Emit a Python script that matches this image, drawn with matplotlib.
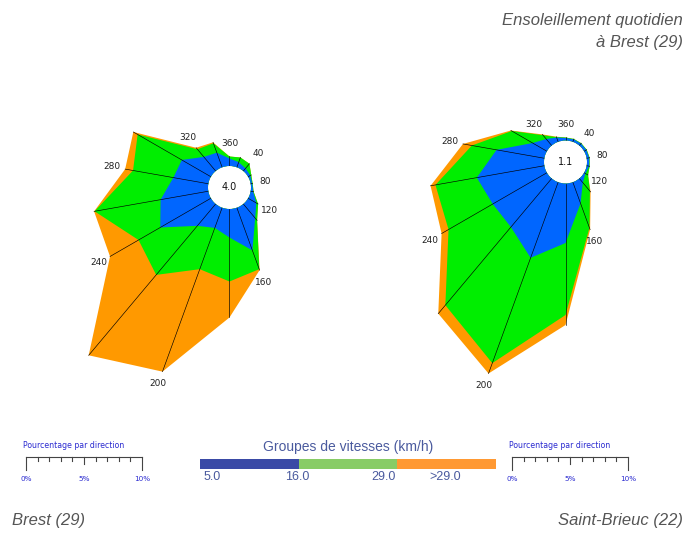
import numpy as np
import matplotlib
matplotlib.use("Agg")
import matplotlib.pyplot as plt

# ---------------- data ----------------
directions = list(range(0, 360, 20))          # degrees (0 = North, clockwise)
label_dirs = [40, 80, 120, 160, 200, 240, 280, 320, 360]

# Brest (29) - percentage per direction and speed group
brest_calm = 4.0
brest_blue = [0.65, 0.47, 0.30, 0.22, 0.13, 0.22, 0.82, 1.59, 3.92,
              2.46, 1.85, 2.46, 5.04, 4.18, 3.06, 2.89, 1.59, 1.34]
brest_green = [0.17, 0.43, 0.52, 0.09, 0.04, 0.04, 0.17, 0.26, 1.72,
               3.79, 3.79, 5.52, 2.16, 5.78, 3.53, 4.40, 0.86, 0.86]
brest_orange = [0.0, 0.0, 0.0, 0.0, 0.0, 0.0, 0.0, 0.0, 0.09,
                3.10, 9.40, 9.05, 2.84, 0.04, 0.69, 0.43, 0.17, 0.09]

# Saint-Brieuc (22)
sb_calm = 1.1
sb_blue = [0.22, 0.22, 0.22, 0.22, 0.22, 0.22, 0.13, 0.47, 1.94,
           5.13, 6.94, 5.47, 5.39, 5.91, 4.18, 1.42, 0.73, 0.39]
sb_green = [0.04, 0.04, 0.04, 0.04, 0.04, 0.04, 0.26, 0.95, 2.24,
            6.21, 9.66, 8.79, 4.40, 3.62, 2.16, 2.07, 0.43, 0.04]
sb_orange = [0.0, 0.0, 0.0, 0.0, 0.0, 0.0, 0.0, 0.09, 0.17,
             0.86, 0.95, 0.95, 0.69, 0.43, 0.78, 0.09, 0.09, 0.04]

speed_labels = ["5.0", "16.0", "29.0", ">29.0"]
legend_colors = ["#3a4aa6", "#88cc66", "#ff9933"]
rose_colors = ["#0066ff", "#00ee00", "#ff9900"]
scale_labels = ["0%", "5%", "10%"]
scale_values = [0, 5, 10]

# ---------------- layout ----------------
W, H = 688, 533
fig = plt.figure(figsize=(W / 100, H / 100), dpi=100)

PX = 11.6          # pixels per percent
HOLE = 21.5 / PX   # calm circle radius in percent units
RMAX = 20


def rose(cx, cy, blue, green, orange, calm):
    R = (RMAX + HOLE) * PX
    ax = fig.add_axes([(cx - R) / W, 1 - (cy + R) / H, 2 * R / W, 2 * R / H],
                      projection="polar")
    ax.set_theta_zero_location("N")
    ax.set_theta_direction(-1)
    ax.set_rorigin(-HOLE)
    ax.set_rlim(0, RMAX)
    ax.axis("off")
    th = np.deg2rad(directions)
    c1 = np.array(blue)
    c2 = c1 + np.array(green)
    c3 = c2 + np.array(orange)
    ax.fill(th, c3, color=rose_colors[2], lw=0, zorder=1)
    ax.fill(th, c2, color=rose_colors[1], lw=0, zorder=2)
    ax.fill(th, c1, color=rose_colors[0], lw=0, zorder=3)
    for t, r in zip(th, c3):
        ax.plot([t, t], [0, r], color="black", lw=0.45, zorder=4)
    for d in label_dirs:
        i = directions.index(d % 360)
        ax.text(np.deg2rad(d % 360), c3[i] + 1.12, str(d), ha="center",
                va="center", fontsize=6.5, color="#222222", zorder=5)
    ax.text(0.5, 0.5, f"{calm:.1f}", transform=ax.transAxes, ha="center",
            va="center", fontsize=7, color="#111111", zorder=6)
    return ax


rose(229.5, 187.5, brest_blue, brest_green, brest_orange, brest_calm)
rose(565.5, 162.0, sb_blue, sb_green, sb_orange, sb_calm)


def fx(x):
    return x / W


def fy(y):
    return 1 - y / H


# ---------------- scale rulers ----------------
def ruler(x0, x1):
    ax = fig.add_axes([fx(x0), fy(471), fx(x1 - x0), 14 / H])
    ax.set_xlim(0, 10)
    ax.set_ylim(-14, 0)
    ax.axis("off")
    ax.plot([0, 10], [0, 0], color="#444444", lw=0.8, clip_on=False)
    for v in range(11):
        if v in (0, 10):
            ln = 13
        elif v == 5:
            ln = 7
        else:
            ln = 4
        ax.plot([v, v], [0, -ln], color="#444444", lw=0.8, clip_on=False)
    fig.text(fx(x0 - 3), fy(446), "Pourcentage par direction", ha="left",
             va="center", fontsize=5.6, color="#2a2ad0")
    for v, lab in zip(scale_values, scale_labels):
        fig.text(fx(x0 + (x1 - x0) * v / 10), fy(479), lab, ha="center",
                 va="center", fontsize=5.2, color="#2a2ad0")


ruler(26, 142)
ruler(512, 628)

# ---------------- speed-group legend ----------------
cb = fig.add_axes([fx(200), fy(469), fx(296), 10 / H])
cb.barh([0] * len(legend_colors), [1] * len(legend_colors),
        left=list(range(len(legend_colors))), height=1, color=legend_colors,
        align="edge")
cb.set_xlim(0, len(legend_colors))
cb.set_ylim(0, 1)
cb.axis("off")
fig.text(fx(348), fy(447), "Groupes de vitesses (km/h)", ha="center",
         va="center", fontsize=10, color="#4a5a9e", family="Liberation Sans")
for xpos, lab in zip([212, 297, 384, 445], speed_labels):
    fig.text(fx(xpos), fy(477), lab, ha="center", va="center", fontsize=9,
             color="#4a5a9e", family="Liberation Sans")

# ---------------- titles ----------------
fig.text(fx(683), fy(20), "Ensoleillement quotidien", ha="right", va="center",
         style="italic", fontsize=12, color="#555555", family="Liberation Sans")
fig.text(fx(683), fy(42), "à Brest (29)", ha="right", va="center",
         style="italic", fontsize=12, color="#555555", family="Liberation Sans")
fig.text(fx(12), fy(520), "Brest (29)", ha="left", va="center",
         style="italic", fontsize=12, color="#555555", family="Liberation Sans")
fig.text(fx(683), fy(520), "Saint-Brieuc (22)", ha="right", va="center",
         style="italic", fontsize=12, color="#555555", family="Liberation Sans")

fig.savefig("out.png", dpi=100)
